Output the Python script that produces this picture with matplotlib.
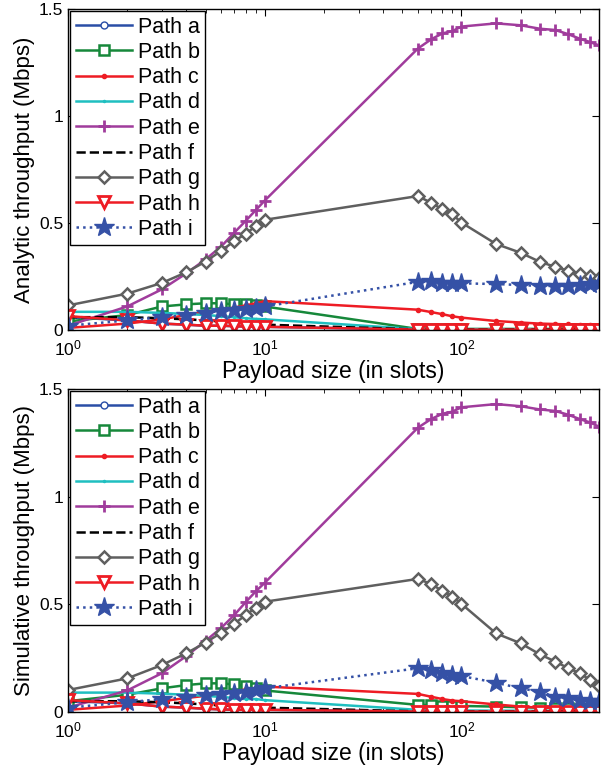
import numpy as np
import matplotlib
matplotlib.use("Agg")
from matplotlib import pyplot as plt
from matplotlib.ticker import LogLocator, NullFormatter

plt.rcParams["font.family"] = ["Liberation Sans", "DejaVu Sans"]
plt.rcParams["mathtext.fontset"] = "custom"
plt.rcParams["mathtext.rm"] = "Liberation Sans"

# payload sizes (slots)
payload = [1, 2, 3, 4, 5, 6, 7, 8, 9, 10, 60, 70, 80, 90, 100,
           150, 200, 250, 300, 350, 400, 450, 500]

pathNames = ["Path a", "Path b", "Path c", "Path d", "Path e",
             "Path f", "Path g", "Path h", "Path i"]

# analytic throughput [Mbps]
analyticA = [0.06, 0.045, 0.03, 0.025, 0.02, 0.02, 0.018, 0.016, 0.015, 0.015,
             0.002, 0.002, 0.002, 0.002, 0.002, 0.002, 0.002, 0.002, 0.002, 0.002, 0.002, 0.002, 0.002]
analyticB = [0.04, 0.07, 0.11, 0.12, 0.125, 0.125, 0.12, 0.12, 0.115, 0.11,
             0.005, 0.005, 0.005, 0.005, 0.005, 0.005, 0.005, 0.005, 0.005, 0.005, 0.005, 0.005, 0.005]
analyticC = [0.01, 0.03, 0.05, 0.07, 0.085, 0.095, 0.105, 0.115, 0.125, 0.135,
             0.095, 0.084, 0.074, 0.064, 0.058, 0.042, 0.035, 0.03, 0.028, 0.026, 0.024, 0.022, 0.02]
analyticD = [0.085, 0.085, 0.08, 0.075, 0.07, 0.065, 0.06, 0.055, 0.052, 0.05,
             0.004, 0.004, 0.004, 0.004, 0.004, 0.004, 0.004, 0.004, 0.004, 0.004, 0.004, 0.004, 0.004]
analyticE = [0.02, 0.11, 0.19, 0.265, 0.33, 0.39, 0.455, 0.51, 0.56, 0.605,
             1.315, 1.358, 1.386, 1.397, 1.418, 1.433, 1.424, 1.408, 1.402, 1.382, 1.361, 1.346, 1.33]
analyticF = [0.06, 0.06, 0.055, 0.05, 0.045, 0.04, 0.035, 0.03, 0.03, 0.025,
             0.003, 0.003, 0.003, 0.003, 0.003, 0.003, 0.003, 0.003, 0.003, 0.003, 0.003, 0.003, 0.003]
analyticG = [0.115, 0.17, 0.22, 0.27, 0.32, 0.37, 0.415, 0.45, 0.485, 0.515,
             0.626, 0.595, 0.564, 0.541, 0.502, 0.402, 0.361, 0.319, 0.295, 0.277, 0.264, 0.252, 0.245]
analyticH = [0.065, 0.045, 0.03, 0.025, 0.02, 0.02, 0.018, 0.016, 0.015, 0.015,
             0.002, 0.002, 0.002, 0.002, 0.002, 0.002, 0.002, 0.002, 0.002, 0.002, 0.002, 0.002, 0.002]
analyticI = [0.02, 0.045, 0.06, 0.07, 0.08, 0.09, 0.095, 0.10, 0.105, 0.11,
             0.225, 0.23, 0.222, 0.218, 0.218, 0.215, 0.21, 0.206, 0.206, 0.208, 0.211, 0.214, 0.218]

# simulative throughput [Mbps]
simA = [0.05, 0.04, 0.025, 0.02, 0.015, 0.012, 0.01, 0.01, 0.01, 0.01,
        0.002, 0.002, 0.002, 0.002, 0.002, 0.002, 0.002, 0.002, 0.002, 0.002, 0.002, 0.002, 0.002]
simB = [0.05, 0.08, 0.11, 0.125, 0.133, 0.133, 0.128, 0.12, 0.11, 0.1,
        0.033, 0.032, 0.03, 0.03, 0.028, 0.025, 0.022, 0.02, 0.018, 0.017, 0.016, 0.015, 0.015]
simC = [0.01, 0.03, 0.05, 0.065, 0.075, 0.085, 0.095, 0.105, 0.11, 0.118,
        0.084, 0.071, 0.06, 0.053, 0.05, 0.035, 0.025, 0.02, 0.018, 0.015, 0.013, 0.012, 0.01]
simD = [0.09, 0.09, 0.085, 0.08, 0.075, 0.07, 0.065, 0.06, 0.06, 0.055,
        0.01, 0.009, 0.008, 0.008, 0.007, 0.006, 0.006, 0.005, 0.005, 0.005, 0.005, 0.005, 0.005]
simE = [0.02, 0.10, 0.18, 0.26, 0.33, 0.39, 0.45, 0.51, 0.56, 0.60,
        1.32, 1.36, 1.385, 1.395, 1.415, 1.43, 1.42, 1.405, 1.398, 1.38, 1.36, 1.345, 1.325]
simF = [0.05, 0.05, 0.045, 0.04, 0.035, 0.03, 0.03, 0.025, 0.025, 0.02,
        0.003, 0.003, 0.003, 0.003, 0.003, 0.003, 0.003, 0.003, 0.003, 0.003, 0.003, 0.003, 0.003]
simG = [0.102, 0.156, 0.218, 0.273, 0.322, 0.368, 0.41, 0.45, 0.485, 0.512,
        0.618, 0.595, 0.562, 0.536, 0.502, 0.365, 0.319, 0.268, 0.234, 0.203, 0.18, 0.149, 0.122]
simH = [0.055, 0.04, 0.025, 0.02, 0.015, 0.012, 0.01, 0.01, 0.01, 0.01,
        0.002, 0.002, 0.002, 0.002, 0.002, 0.002, 0.002, 0.002, 0.002, 0.002, 0.002, 0.002, 0.002]
simI = [0.02, 0.045, 0.06, 0.07, 0.08, 0.085, 0.09, 0.095, 0.10, 0.11,
        0.203, 0.195, 0.183, 0.172, 0.167, 0.136, 0.11, 0.094, 0.071, 0.064, 0.056, 0.053, 0.05]

analytic = [analyticA, analyticB, analyticC, analyticD, analyticE,
            analyticF, analyticG, analyticH, analyticI]
simulative = [simA, simB, simC, simD, simE, simF, simG, simH, simI]

yTicks = [0, 0.5, 1, 1.5]
yTickLabels = ["0", "0.5", "1", "1.5"]

styles = [
    dict(color="#2a4ea6", marker="o", ms=5, mfc="white", linestyle="-"),
    dict(color="#16883a", marker="s", ms=7, mfc="white", mew=1.8, linestyle="-"),
    dict(color="#ee1c24", marker=".", ms=6, linestyle="-"),
    dict(color="#1fbfc0", marker=".", ms=3, linestyle="-"),
    dict(color="#a03c9c", marker="+", ms=8, mew=2, linestyle="-"),
    dict(color="black", marker=None, linestyle="--"),
    dict(color="#5f5f5f", marker="D", ms=6.5, mfc="white", mew=1.8, linestyle="-"),
    dict(color="#ee1c24", marker="v", ms=9, mfc="white", mew=2, linestyle="-"),
    dict(color="#3551a6", marker="*", ms=15, linestyle=":"),
]


def drawPanel(ax, series, ylabel):
    for values, name, style in zip(series, pathNames, styles):
        ax.plot(payload, values, label=name, lw=1.8, **style)

    ax.set_xscale("log")
    ax.set_xlim(1, 500)
    ax.set_ylim(0, 1.5)
    ax.set_yticks(yTicks)
    ax.set_yticklabels(yTickLabels)
    ax.xaxis.set_major_locator(LogLocator(base=10))
    ax.xaxis.set_minor_locator(LogLocator(base=10, subs=np.arange(2, 10)))
    ax.xaxis.set_minor_formatter(NullFormatter())
    ax.tick_params(which="both", direction="in", top=True, right=True, labelsize=12.5)
    ax.tick_params(axis="x", pad=6)
    ax.tick_params(which="major", length=5)
    ax.tick_params(which="minor", length=3)
    ax.set_xlabel("Payload size (in slots)", fontsize=16.5, labelpad=1)
    ax.set_ylabel(ylabel, fontsize=16, labelpad=3)
    for spine in ax.spines.values():
        spine.set_linewidth(1.0)

    leg = ax.legend(loc="upper left", fontsize=15.5, borderaxespad=0.1, handlelength=2.6,
                    handletextpad=0.3, labelspacing=0.2, borderpad=0.25, fancybox=False,
                    framealpha=1, edgecolor="black")
    leg.get_frame().set_linewidth(1.0)


fig = plt.figure(figsize=(6.05, 7.65), dpi=100)
axTop = fig.add_axes([0.1124, 0.5686, 0.8776, 0.4196])
axBottom = fig.add_axes([0.1124, 0.0693, 0.8776, 0.4222])

drawPanel(axTop, analytic, "Analytic throughput (Mbps)")
drawPanel(axBottom, simulative, "Simulative throughput (Mbps)")

fig.savefig("out.png", dpi=100)
